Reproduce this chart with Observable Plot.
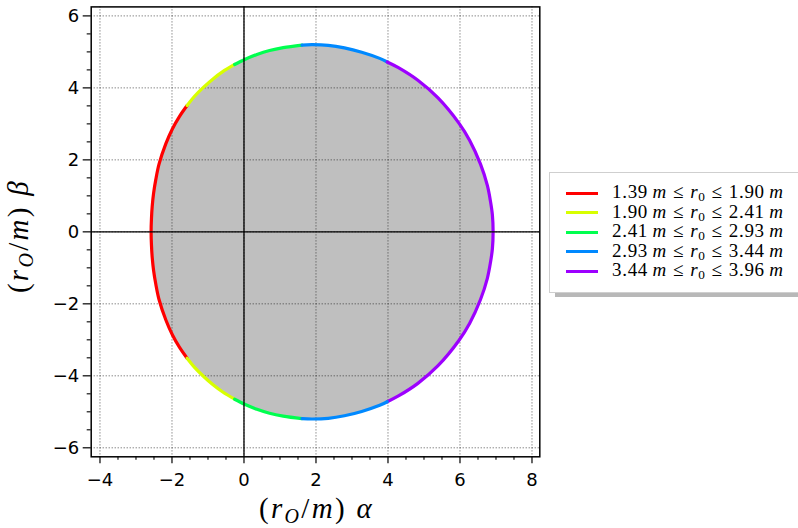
<!DOCTYPE html>
<html>
<head>
<meta charset="utf-8">
<script src="https://cdn.jsdelivr.net/npm/d3@7"></script>
<script src="https://cdn.jsdelivr.net/npm/@observablehq/plot@0.6"></script>
<style>
  html, body { margin: 0; padding: 0; background: #fff; }
  #wrap { position: relative; width: 798px; height: 528px; overflow: hidden; }
  #legend {
    position: absolute; left: 549px; top: 172px; width: 250px; height: 121px;
    box-sizing: border-box; background: #fff; border: 1px solid #cfcfcf;
    box-shadow: 6px 4px 0 #b8b8b8;
    font-family: "Liberation Serif", "DejaVu Serif", serif; font-size: 19px; color: #000;
  }
  .row { position: absolute; left: 0; height: 20px; width: 100%; }
  .sw { position: absolute; left: 16px; top: 8.5px; width: 32px; height: 3.2px; }
  .tx { position: absolute; left: 62px; top: -1px; white-space: nowrap; line-height: 20px; letter-spacing: 0.7px; }
  .tx i { font-style: italic; }
  .tx sub { font-size: 70%; vertical-align: -3px; line-height: 0; }
  .rel { margin: 0 6px; }
</style>
</head>
<body>
<div id="wrap"></div>
<script>
// Range of the emission radius r0 covered by each coloured arc
const rangeLow  = ["1.39", "1.90", "2.41", "2.93", "3.44"];
const rangeHigh = ["1.90", "2.41", "2.93", "3.44", "3.96"];
const arcColors = ["#ff0000", "#d8ff00", "#00ff4f", "#0089ff", "#9d00ff"];

// Upper half of the shadow rim (beta >= 0), one list per r0 range
const alphaUp1 = [-2.58, -2.57, -2.55, -2.51, -2.45, -2.36, -2.17, -1.99, -1.79, -1.58];
const betaUp1  = [0, 0.37, 0.70, 1.08, 1.45, 1.88, 2.45, 2.86, 3.21, 3.51];
const alphaUp2 = [-1.58, -1.36, -1.12, -0.86, -0.59, -0.26];
const betaUp2  = [3.51, 3.78, 4.02, 4.25, 4.45, 4.65];
const alphaUp3 = [-0.26, 0.02, 0.36, 0.71, 1.09, 1.61];
const betaUp3  = [4.65, 4.79, 4.93, 5.04, 5.12, 5.19];
const alphaUp4 = [1.61, 1.90, 2.34, 2.79, 3.27, 3.77, 3.98];
const betaUp4  = [5.19, 5.20, 5.18, 5.11, 4.99, 4.82, 4.72];
const alphaUp5 = [3.98, 4.29, 4.83, 5.39, 5.97, 6.27, 6.57, 6.76, 6.85, 6.90, 6.92];
const betaUp5  = [4.72, 4.56, 4.21, 3.72, 3.02, 2.54, 1.88, 1.29, 0.83, 0.47, 0];

// Lower half of the shadow rim (beta <= 0)
const alphaDn1 = [-2.58, -2.57, -2.55, -2.51, -2.45, -2.36, -2.17, -1.99, -1.79, -1.58];
const betaDn1  = [0, -0.37, -0.70, -1.08, -1.45, -1.88, -2.45, -2.86, -3.21, -3.51];
const alphaDn2 = [-1.58, -1.36, -1.12, -0.86, -0.59, -0.26];
const betaDn2  = [-3.51, -3.78, -4.02, -4.25, -4.45, -4.65];
const alphaDn3 = [-0.26, 0.02, 0.36, 0.71, 1.09, 1.61];
const betaDn3  = [-4.65, -4.79, -4.93, -5.04, -5.12, -5.19];
const alphaDn4 = [1.61, 1.90, 2.34, 2.79, 3.27, 3.77, 3.98];
const betaDn4  = [-5.19, -5.20, -5.18, -5.11, -4.99, -4.82, -4.72];
const alphaDn5 = [3.98, 4.29, 4.83, 5.39, 5.97, 6.27, 6.57, 6.76, 6.85, 6.90, 6.92];
const betaDn5  = [-4.72, -4.56, -4.21, -3.72, -3.02, -2.54, -1.88, -1.29, -0.83, -0.47, 0];

// Axis ticks
const xMajor = [-4, -2, 0, 2, 4, 6, 8];
const yMajor = [-6, -4, -2, 0, 2, 4, 6];
const xMinor = d3.range(-4, 8.01, 0.5).filter(v => !xMajor.includes(v));
const yMinor = d3.range(-6, 6.01, 0.5).filter(v => !yMajor.includes(v));

const upper = [[alphaUp1, betaUp1], [alphaUp2, betaUp2], [alphaUp3, betaUp3], [alphaUp4, betaUp4], [alphaUp5, betaUp5]];
const lower = [[alphaDn1, betaDn1], [alphaDn2, betaDn2], [alphaDn3, betaDn3], [alphaDn4, betaDn4], [alphaDn5, betaDn5]];

const toPoints = ([a, b]) => a.map((v, i) => ({alpha: v, beta: b[i]}));

// Coloured arcs; the red and violet arcs run through beta = 0 as one piece each
const arcs = [];
upper.forEach((seg, k) => {
  let pts = toPoints(seg);
  if (k === 0) pts = toPoints(lower[0]).reverse().concat(pts.slice(1));
  if (k === 4) pts = pts.concat(toPoints(lower[4]).reverse().slice(1));
  pts.forEach(p => arcs.push({...p, arc: "u" + k, color: arcColors[k]}));
});
[1, 2, 3].forEach(k => toPoints(lower[k]).forEach(p => arcs.push({...p, arc: "d" + k, color: arcColors[k]})));

// Closed outline for the filled shadow: upper rim left→right, lower rim right→left
const outline = [];
upper.forEach((seg, k) => toPoints(seg).slice(k === 0 ? 0 : 1).forEach(p => outline.push(p)));
lower.slice().reverse().forEach((seg, k) => {
  const pts = toPoints(seg).reverse();
  pts.slice(1, k === 4 ? pts.length - 1 : pts.length).forEach(p => outline.push(p));
});

const W = 798, H = 528;
const chart = Plot.plot({
  width: W, height: H,
  marginLeft: 90.7, marginRight: 258.7, marginTop: 6.4, marginBottom: 71.7,
  x: {domain: [-4.244, 8.217]},
  y: {domain: [-6.25, 6.25]},
  style: {fontFamily: "DejaVu Sans", fontSize: "18px", background: "#fff", color: "#000"},
  marks: [
    Plot.line(outline, {x: "alpha", y: "beta", fill: "#bfbfbf", stroke: "none", curve: "catmull-rom-closed"}),
    Plot.gridX(xMajor, {stroke: "#000", strokeOpacity: 0.75, strokeWidth: 0.9, strokeDasharray: "1,2"}),
    Plot.gridY(yMajor, {stroke: "#000", strokeOpacity: 0.75, strokeWidth: 0.9, strokeDasharray: "1,2"}),
    Plot.line(arcs, {x: "alpha", y: "beta", z: "arc", stroke: "color", strokeWidth: 3.2, curve: "catmull-rom"}),
    Plot.ruleX([0], {stroke: "#000", strokeWidth: 1.3}),
    Plot.ruleY([0], {stroke: "#000", strokeWidth: 1.3}),
    Plot.axisX(xMajor, {tickSize: 7, tickPadding: 9, strokeWidth: 1.2, label: null}),
    Plot.axisX(xMinor, {tickSize: 3.5, tickFormat: () => "", strokeWidth: 1.1, label: null}),
    Plot.axisY(yMajor, {tickSize: 8, tickPadding: 4, strokeWidth: 1.2, label: null}),
    Plot.axisY(yMinor, {tickSize: 4, tickFormat: () => "", strokeWidth: 1.1, label: null}),
    Plot.frame({stroke: "#000", strokeWidth: 1.5})
  ]
});

// Axis titles with italic math symbols
const svg = d3.select(chart);
function mathLabel(g) {
  g.attr("font-family", "'Liberation Serif', 'DejaVu Serif', serif").attr("font-size", 29)
   .attr("letter-spacing", 2.3).attr("fill", "#000");
  g.append("tspan").text("(");
  g.append("tspan").attr("font-style", "italic").text("r");
  g.append("tspan").attr("font-style", "italic").attr("font-size", 20).attr("dy", 5).text("O");
  g.append("tspan").attr("dy", -5).text("/");
  g.append("tspan").attr("font-style", "italic").text("m");
  g.append("tspan").text(") ");
}
const xl = svg.append("text").attr("x", 316.5).attr("y", 518).attr("text-anchor", "middle");
mathLabel(xl);
xl.append("tspan").attr("font-style", "italic").text("\u03b1");
const yl = svg.append("text").attr("transform", "translate(28,236) rotate(-90)").attr("text-anchor", "middle");
mathLabel(yl);
yl.append("tspan").attr("font-style", "italic").text("\u03b2");

const wrap = document.getElementById("wrap");
wrap.appendChild(chart);

// Legend box
const legend = d3.select(wrap).append("div").attr("id", "legend");
rangeLow.forEach((lo, i) => {
  const row = legend.append("div").attr("class", "row").style("top", (10 + i * 19.6) + "px");
  row.append("span").attr("class", "sw").style("background", arcColors[i]);
  const t = row.append("span").attr("class", "tx");
  t.html(`${lo}\u2009<i>m</i><span class="rel">≤</span><i>r</i><sub>0</sub><span class="rel">≤</span>${rangeHigh[i]}\u2009<i>m</i>`);
});
</script>
</body>
</html>
